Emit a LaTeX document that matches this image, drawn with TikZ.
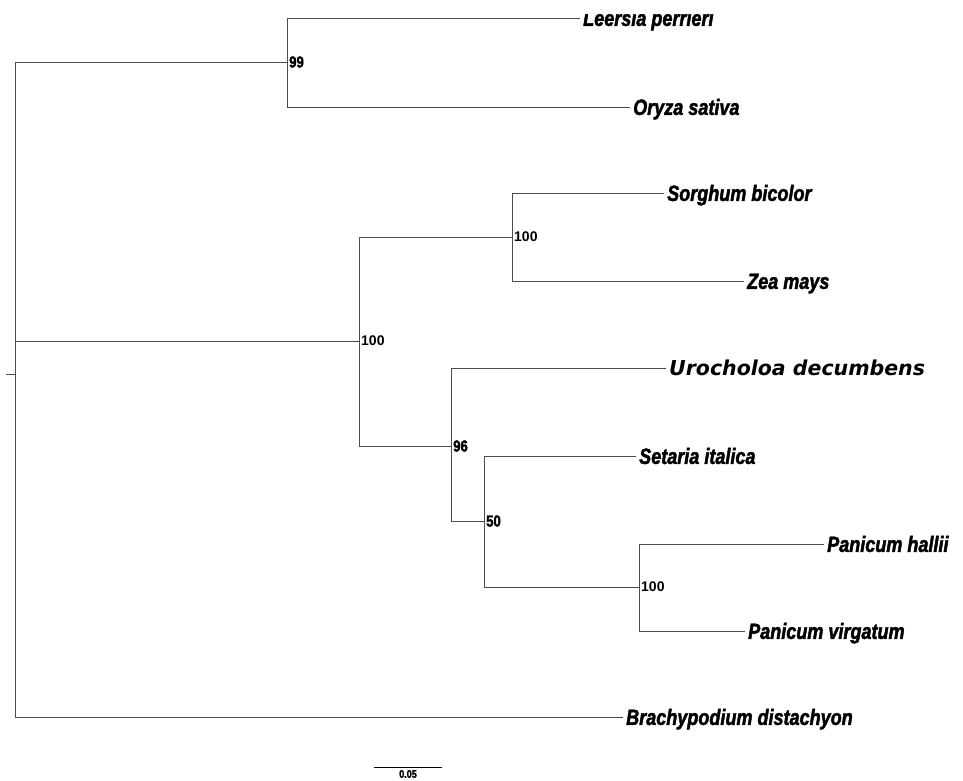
\documentclass[tikz,border=0pt]{standalone}
\usepackage{fontspec}
\usepackage{xcolor}
\usepackage{tikz}

\newfontfamily\tipfont[FakeStretch=0.82, FakeBold=2]{Liberation Sans}
\newfontfamily\urofont{DejaVu Sans}
\newfontfamily\bootfont{Liberation Sans}

\begin{document}
\begin{tikzpicture}[x=1pt, y=-1pt,
	branch/.style={draw=black!70, line width=1pt},
	tip/.style={anchor=west, inner sep=3pt, text height=20pt, text depth=4.25pt,
		font=\tipfont\bfseries\itshape\fontsize{22}{24}\selectfont},
	tipwide/.style={tip, text height=19.5pt, text depth=4.6pt,
		font=\urofont\bfseries\itshape\fontsize{20.5}{24}\selectfont},
	boot/.style={anchor=west, inner sep=2pt,
		font=\bootfont\bfseries\fontsize{14}{15}\selectfont},
	bootc/.style={boot, font=\tipfont\bfseries\fontsize{16}{17}\selectfont},
	scalelab/.style={inner sep=0pt,
		font=\tipfont\bfseries\fontsize{11}{12}\selectfont}]
					\useasboundingbox (0, 0) rectangle (963, 780);
					\clip (0, 14) rectangle (963, 780);
					% inner nodes
					\coordinate (stub) at (6, 374);
					\coordinate (root) at (15, 374);
					\coordinate (n99) at (287, 62);
					\coordinate (n100a) at (359, 341);
					\coordinate (n100b) at (512, 237);
					\coordinate (n96) at (451, 446);
					\coordinate (n50) at (484, 521);
					\coordinate (n100c) at (639, 587);
					% taxa
					\draw (580, 18) node[tip] (leersia) {Leersia perrieri};
					\draw (630, 107) node[tip] (oryza) {Oryza sativa};
					\draw (664, 193) node[tip] (sorghum) {Sorghum bicolor};
					\draw (744, 281) node[tip] (zea) {Zea mays};
					\draw (666, 368) node[tipwide] (urochloa) {Urocholoa decumbens};
					\draw (636, 456) node[tip] (setaria) {Setaria italica};
					\draw (824, 544) node[tip] (hallii) {Panicum hallii};
					\draw (745, 631) node[tip] (virgatum) {Panicum virgatum};
					\draw (623, 717) node[tip] (brachy) {Brachypodium distachyon};
					% support values
					\draw (n99) node[bootc] (b99) {99};
					\draw (n100a) node[boot] (b100a) {100};
					\draw (n100b) node[boot] (b100b) {100};
					\draw (n96) node[bootc] (b96) {96};
					\draw (n50) node[bootc] (b50) {50};
					\draw (n100c) node[boot] (b100c) {100};
					% branches
					\draw[branch] (stub) -- (root);
					\draw[branch] (root) |- (n99);
					\draw[branch] (root) |- (n100a);
					\draw[branch] (root) |- (brachy.west);
					\draw[branch] (n99) |- (leersia.west);
					\draw[branch] (n99) |- (oryza.west);
					\draw[branch] (n100a) |- (n100b);
					\draw[branch] (n100a) |- (n96);
					\draw[branch] (n100b) |- (sorghum.west);
					\draw[branch] (n100b) |- (zea.west);
					\draw[branch] (n96) |- (urochloa.west);
					\draw[branch] (n96) |- (n50);
					\draw[branch] (n50) |- (setaria.west);
					\draw[branch] (n50) |- (n100c);
					\draw[branch] (n100c) |- (hallii.west);
					\draw[branch] (n100c) |- (virgatum.west);
					% scale bar
					\coordinate (sbl) at (374, 767);
					\coordinate (sbr) at (442, 767);
					\draw[branch, draw=black] (sbl) -- (sbr);
					\draw (408, 774) node[scalelab] (sblab) {0.05};
\end{tikzpicture}
\end{document}
